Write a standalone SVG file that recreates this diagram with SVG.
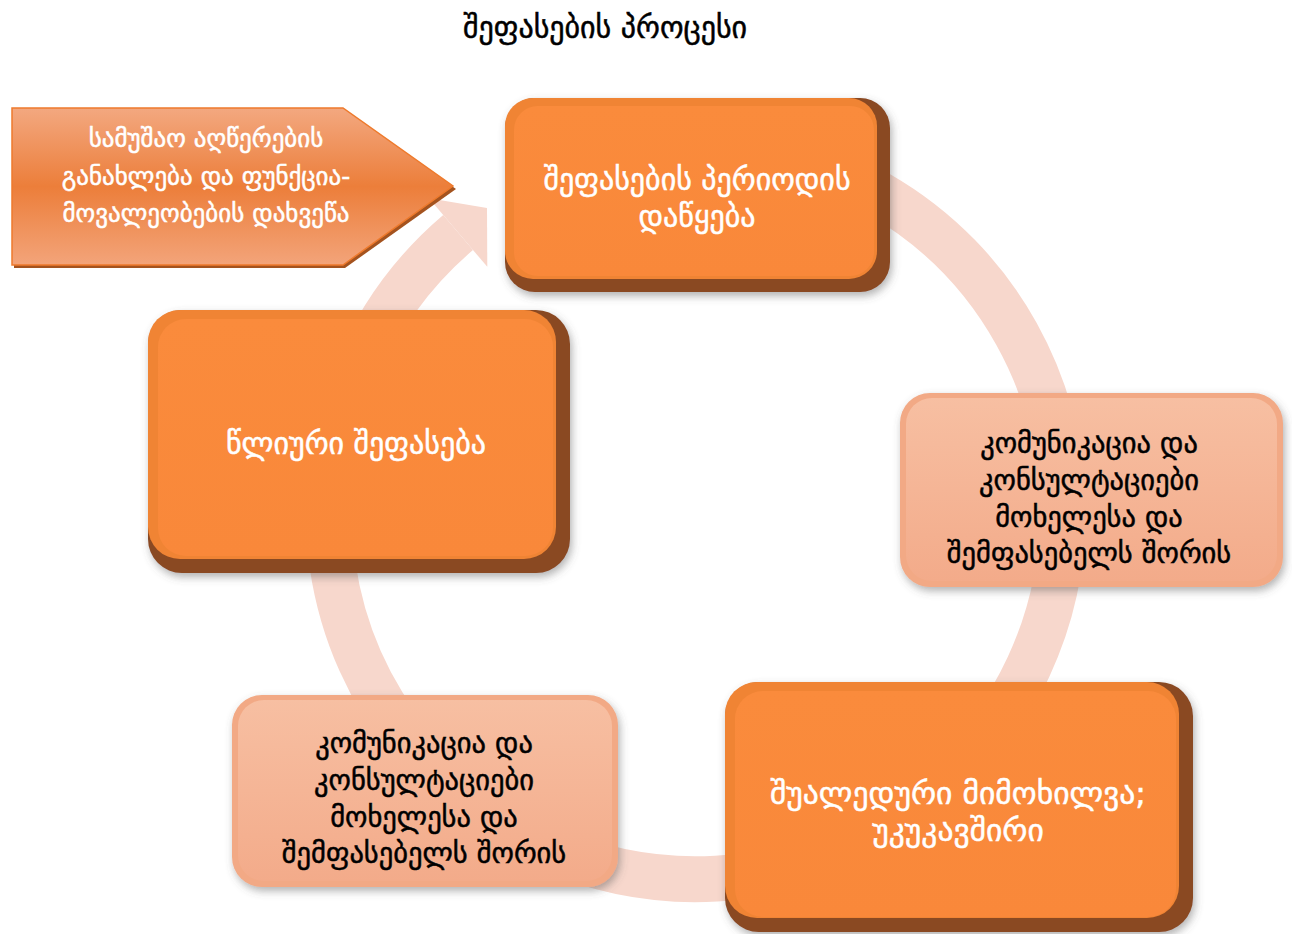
<svg xmlns="http://www.w3.org/2000/svg" width="1292" height="934" viewBox="0 0 1292 934">
<defs>
<style>
text{font-family:"DejaVu Sans","Noto Sans",sans-serif;text-anchor:middle;dominant-baseline:central;stroke-width:0.5px}
.w{fill:#ffffff;stroke:#ffffff;font-size:30px}
.wl{font-size:31.6px}
.b{fill:#000000;stroke:#000000;font-size:28.5px}
.t{fill:#000000;stroke:#000000;font-size:30px}
.pw{fill:#ffffff;stroke:#ffffff;font-size:25px}
.bev{fill:#8A4820}
.bev2{fill:#F08434}
.face{fill:url(#gOr)}
.pbev{fill:#F2A985}
.pface{fill:url(#gPe)}
.ring{fill:none;stroke:#F7D7CC;stroke-width:46}
</style>
<linearGradient id="gOr" x1="0" y1="0" x2="0" y2="1">
<stop offset="0" stop-color="#FA8B3C"/>
<stop offset="1" stop-color="#F9883A"/>
</linearGradient>
<linearGradient id="gPe" x1="0" y1="0" x2="0" y2="1">
<stop offset="0" stop-color="#F7BFA2"/>
<stop offset="1" stop-color="#F3AB8A"/>
</linearGradient>
<linearGradient id="gPent" x1="0" y1="0" x2="0" y2="1">
<stop offset="0" stop-color="#F3A880"/>
<stop offset="0.5" stop-color="#EC7E3A"/>
<stop offset="1" stop-color="#F3A47A"/>
</linearGradient>
<filter id="sh" x="-10%" y="-10%" width="125%" height="130%">
<feDropShadow dx="2" dy="4" stdDeviation="4" flood-color="#555555" flood-opacity="0.45"/>
</filter>
</defs>
<rect width="1292" height="934" fill="#ffffff"/>

<g id="connectors">
<path class="ring" d="M 523.7 188 A 367 367 0 1 1 458.1 232.5"/>
<polygon points="429,198.3 487,207.9 487.3,266.8" fill="#F7D7CC"/>
</g>

<text class="t" x="605" y="27">შეფასების პროცესი</text>

<g id="node-top">
<rect class="bev" x="505" y="98" width="385" height="194" rx="30" filter="url(#sh)"/>
<rect class="bev2" x="505" y="98" width="372" height="181" rx="28"/>
<rect class="face" x="514" y="106" width="360" height="170" rx="24"/>
<text class="w" x="697" y="179">შეფასების პერიოდის</text>
<text class="w" x="697" y="216">დაწყება</text>
</g>

<g id="node-left">
<rect class="bev" x="148" y="310" width="422" height="263" rx="34" filter="url(#sh)"/>
<rect class="bev2" x="148" y="310" width="408" height="249" rx="32"/>
<rect class="face" x="158" y="319" width="395" height="237" rx="28"/>
<text class="w" x="356" y="443">წლიური შეფასება</text>
</g>

<g id="node-right">
<rect class="pbev" x="900" y="393" width="383" height="194" rx="30" filter="url(#sh)"/>
<rect class="pface" x="906" y="398" width="371" height="183" rx="26"/>
<text class="b" x="1089" y="443">კომუნიკაცია და</text>
<text class="b" x="1089" y="480">კონსულტაციები</text>
<text class="b" x="1089" y="517">მოხელესა და</text>
<text class="b" x="1089" y="553">შემფასებელს შორის</text>
</g>

<g id="node-bottom-left">
<rect class="pbev" x="232" y="695" width="386" height="192" rx="30" filter="url(#sh)"/>
<rect class="pface" x="238" y="700" width="374" height="181" rx="26"/>
<text class="b" x="424" y="743">კომუნიკაცია და</text>
<text class="b" x="424" y="780">კონსულტაციები</text>
<text class="b" x="424" y="817">მოხელესა და</text>
<text class="b" x="424" y="853">შემფასებელს შორის</text>
</g>

<g id="node-bottom-right">
<rect class="bev" x="725" y="682" width="468" height="250" rx="34" filter="url(#sh)"/>
<rect class="bev2" x="725" y="682" width="454" height="236" rx="32"/>
<rect class="face" x="735" y="691" width="441" height="226" rx="28"/>
<text class="w wl" x="958" y="793">შუალედური მიმოხილვა;</text>
<text class="w wl" x="958" y="830">უკუკავშირი</text>
</g>

<g id="node-pentagon">
<polygon points="14,111 345,111 456,189 345,268 14,268" fill="#A4531F"/>
<polygon points="12,108 343,108 453,186 343,265 12,265" fill="url(#gPent)" stroke="#EE7A2C" stroke-width="1.5"/>
<text class="pw" x="206" y="138">სამუშაო აღწერების</text>
<text class="pw" x="206" y="176">განახლება და ფუნქცია-</text>
<text class="pw" x="206" y="213">მოვალეობების დახვეწა</text>
</g>
</svg>
